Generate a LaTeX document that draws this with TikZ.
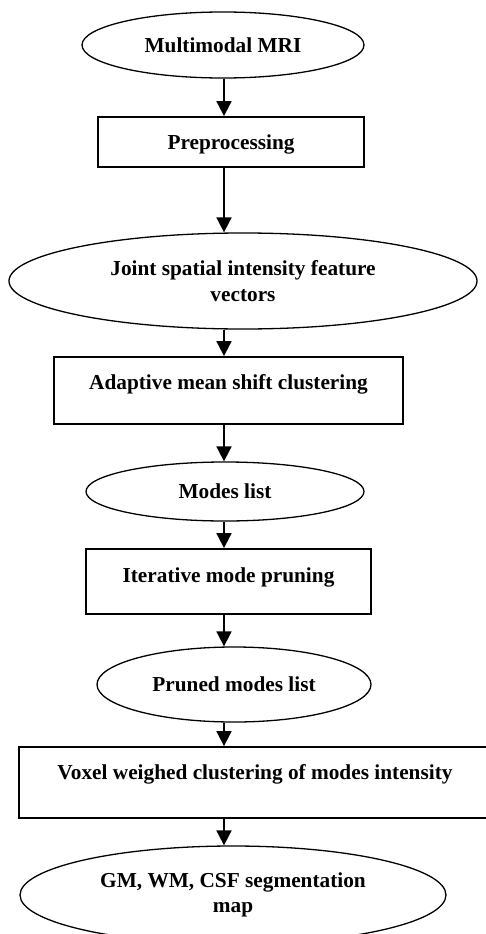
\documentclass[tikz,border=0pt]{standalone}
\usepackage{fontspec}
\setmainfont{Liberation Serif}
\usetikzlibrary{shapes.geometric,arrows.meta}

\tikzset{
  stepoval/.style={draw, ellipse, line width=1.3pt, inner sep=0pt, align=center,
    font=\fontsize{21.3}{25.5}\selectfont\bfseries},
  stepbox/.style={draw, rectangle, line width=1.8pt, inner sep=0pt, text height=15pt,
    font=\fontsize{21.3}{25.5}\selectfont\bfseries},
  flow/.style={line width=1.8pt, -{Triangle[width=15pt,length=15pt]}}
}

\begin{document}
\begin{tikzpicture}[x=1pt,y=-1pt]
\useasboundingbox (0,0) rectangle (486,934);
\clip (0,0) rectangle (486,934);
\coordinate (axis) at (224,0);
% steps, top to bottom
\node[stepoval, minimum width=282pt, minimum height=66pt] (mri) at (223,45) {Multimodal MRI};
\node[stepbox, minimum width=266pt, minimum height=50pt, text depth=1pt] (prep) at (231,142) {Preprocessing};
\node[stepoval, minimum width=468pt, minimum height=96pt] (feat) at (243,281) {Joint spatial intensity feature\\vectors};
\node[stepbox, minimum width=349pt, minimum height=67pt, text depth=18pt] (amsc) at (228.5,390.5) {Adaptive mean shift clustering};
\node[stepoval, minimum width=278pt, minimum height=59pt] (modes) at (225,491.5) {Modes list};
\node[stepbox, minimum width=285pt, minimum height=65pt, text depth=12.6pt] (prune) at (228.5,581.5) {Iterative mode pruning};
\node[stepoval, minimum width=274pt, minimum height=75pt] (pruned) at (234,684.5) {Pruned modes list};
\node[stepbox, minimum width=472pt, minimum height=71pt, text depth=21.4pt] (voxel) at (255,782.5) {Voxel weighed clustering of modes intensity};
\node[stepoval, minimum width=426pt, minimum height=98pt] (seg) at (233,895) {GM, WM, CSF segmentation\\map};
% arrows
\foreach \a/\b in {mri/prep, prep/feat, feat/amsc, amsc/modes, modes/prune, prune/pruned, pruned/voxel, voxel/seg}
    \draw[flow] (\a.south -| axis) -- (\b.north -| axis);
\end{tikzpicture}
\end{document}
